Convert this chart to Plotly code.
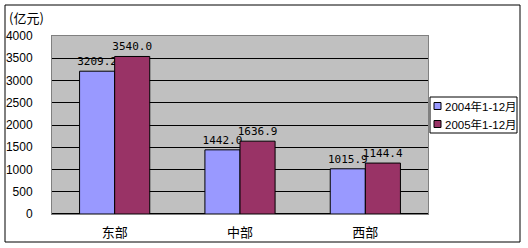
import plotly.graph_objects as go

# Regional totals, 亿元
regions = ["东部", "中部", "西部"]
values_2004 = [3209.2, 1442.0, 1015.9]
values_2005 = [3540.0, 1636.9, 1144.4]
series_names = ["2004年1-12月", "2005年1-12月"]
series_colors = ["#9999FF", "#993366"]
y_ticks = [0, 500, 1000, 1500, 2000, 2500, 3000, 3500, 4000]

W, H = 528, 248
ML, MR, MT, MB = 52, 7, 36, 34
PW, PH = W - ML - MR, H - MT - MB
PLOT_W = 376  # pixel width of the plotting area


def px_x(x):
    """Pixel column -> paper x."""
    return (x - ML) / PW


def px_y(y):
    """Pixel row -> paper y."""
    return (H - MB - y) / PH


label_font = dict(family="DejaVu Sans Mono, Liberation Mono, monospace", size=11, color="#000000")

fig = go.Figure()
for vals, name, color in zip([values_2004, values_2005], series_names, series_colors):
    fig.add_trace(go.Bar(
        x=regions, y=vals, name=name,
        marker=dict(color=color, line=dict(color="#000000", width=1)),
        text=[f"{v:.1f}" for v in vals], textposition="outside",
        textfont=label_font, cliponaxis=False, constraintext="none",
    ))

shapes = [
    # outer frame
    dict(type="rect", xref="paper", yref="paper",
         x0=px_x(5), x1=px_x(520), y0=px_y(242), y1=px_y(5),
         line=dict(color="#000000", width=1), fillcolor="rgba(0,0,0,0)", layer="below"),
    # legend box
    dict(type="rect", xref="paper", yref="paper",
         x0=px_x(430), x1=px_x(517), y0=px_y(133), y1=px_y(97),
         line=dict(color="#000000", width=1), fillcolor="#FFFFFF", layer="above"),
]
annotations = [dict(
    text="(亿元)", xref="paper", yref="paper",
    x=px_x(7), y=px_y(17), xanchor="left", yanchor="middle",
    showarrow=False, font=dict(family="Noto Sans CJK SC, sans-serif", size=13),
)]
for i, (name, color) in enumerate(zip(series_names, series_colors)):
    cy = 106 + 18 * i
    shapes.append(dict(
        type="rect", xref="paper", yref="paper",
        x0=px_x(434), x1=px_x(441), y0=px_y(cy + 3.5), y1=px_y(cy - 3.5),
        line=dict(color="#000000", width=1), fillcolor=color, layer="above",
    ))
    annotations.append(dict(
        text=name, xref="paper", yref="paper",
        x=px_x(443), y=px_y(cy), xanchor="left", yanchor="middle",
        showarrow=False,
        font=dict(family="Liberation Sans, Noto Sans CJK SC, sans-serif", size=11.5),
    ))

fig.update_layout(
    width=W, height=H,
    margin=dict(l=ML, r=MR, t=MT, b=MB, autoexpand=False),
    paper_bgcolor="#FFFFFF",
    plot_bgcolor="#C0C0C0",
    barmode="group",
    bargap=0.44,
    bargroupgap=0,
    font=dict(family="Liberation Sans, Arial, sans-serif", size=12, color="#000000"),
    showlegend=False,
    xaxis=dict(
        domain=[0, PLOT_W / PW], automargin=False,
        showgrid=False, showline=True, linecolor="#808080", mirror=True,
        tickfont=dict(family="Noto Sans CJK SC, sans-serif", size=13),
        ticks="outside", ticklen=6, tickcolor="rgba(0,0,0,0)",
    ),
    yaxis=dict(
        range=[0, 4000], tickvals=y_ticks, automargin=False,
        showgrid=True, gridcolor="#000000", gridwidth=1,
        zeroline=True, zerolinecolor="#000000",
        showline=True, linecolor="#808080", mirror=True,
        ticks="outside", ticklen=16, tickcolor="rgba(0,0,0,0)",
        tickfont=dict(family="Liberation Sans, Arial, sans-serif", size=12),
    ),
    shapes=shapes,
    annotations=annotations,
)

fig.write_html("out.html")
